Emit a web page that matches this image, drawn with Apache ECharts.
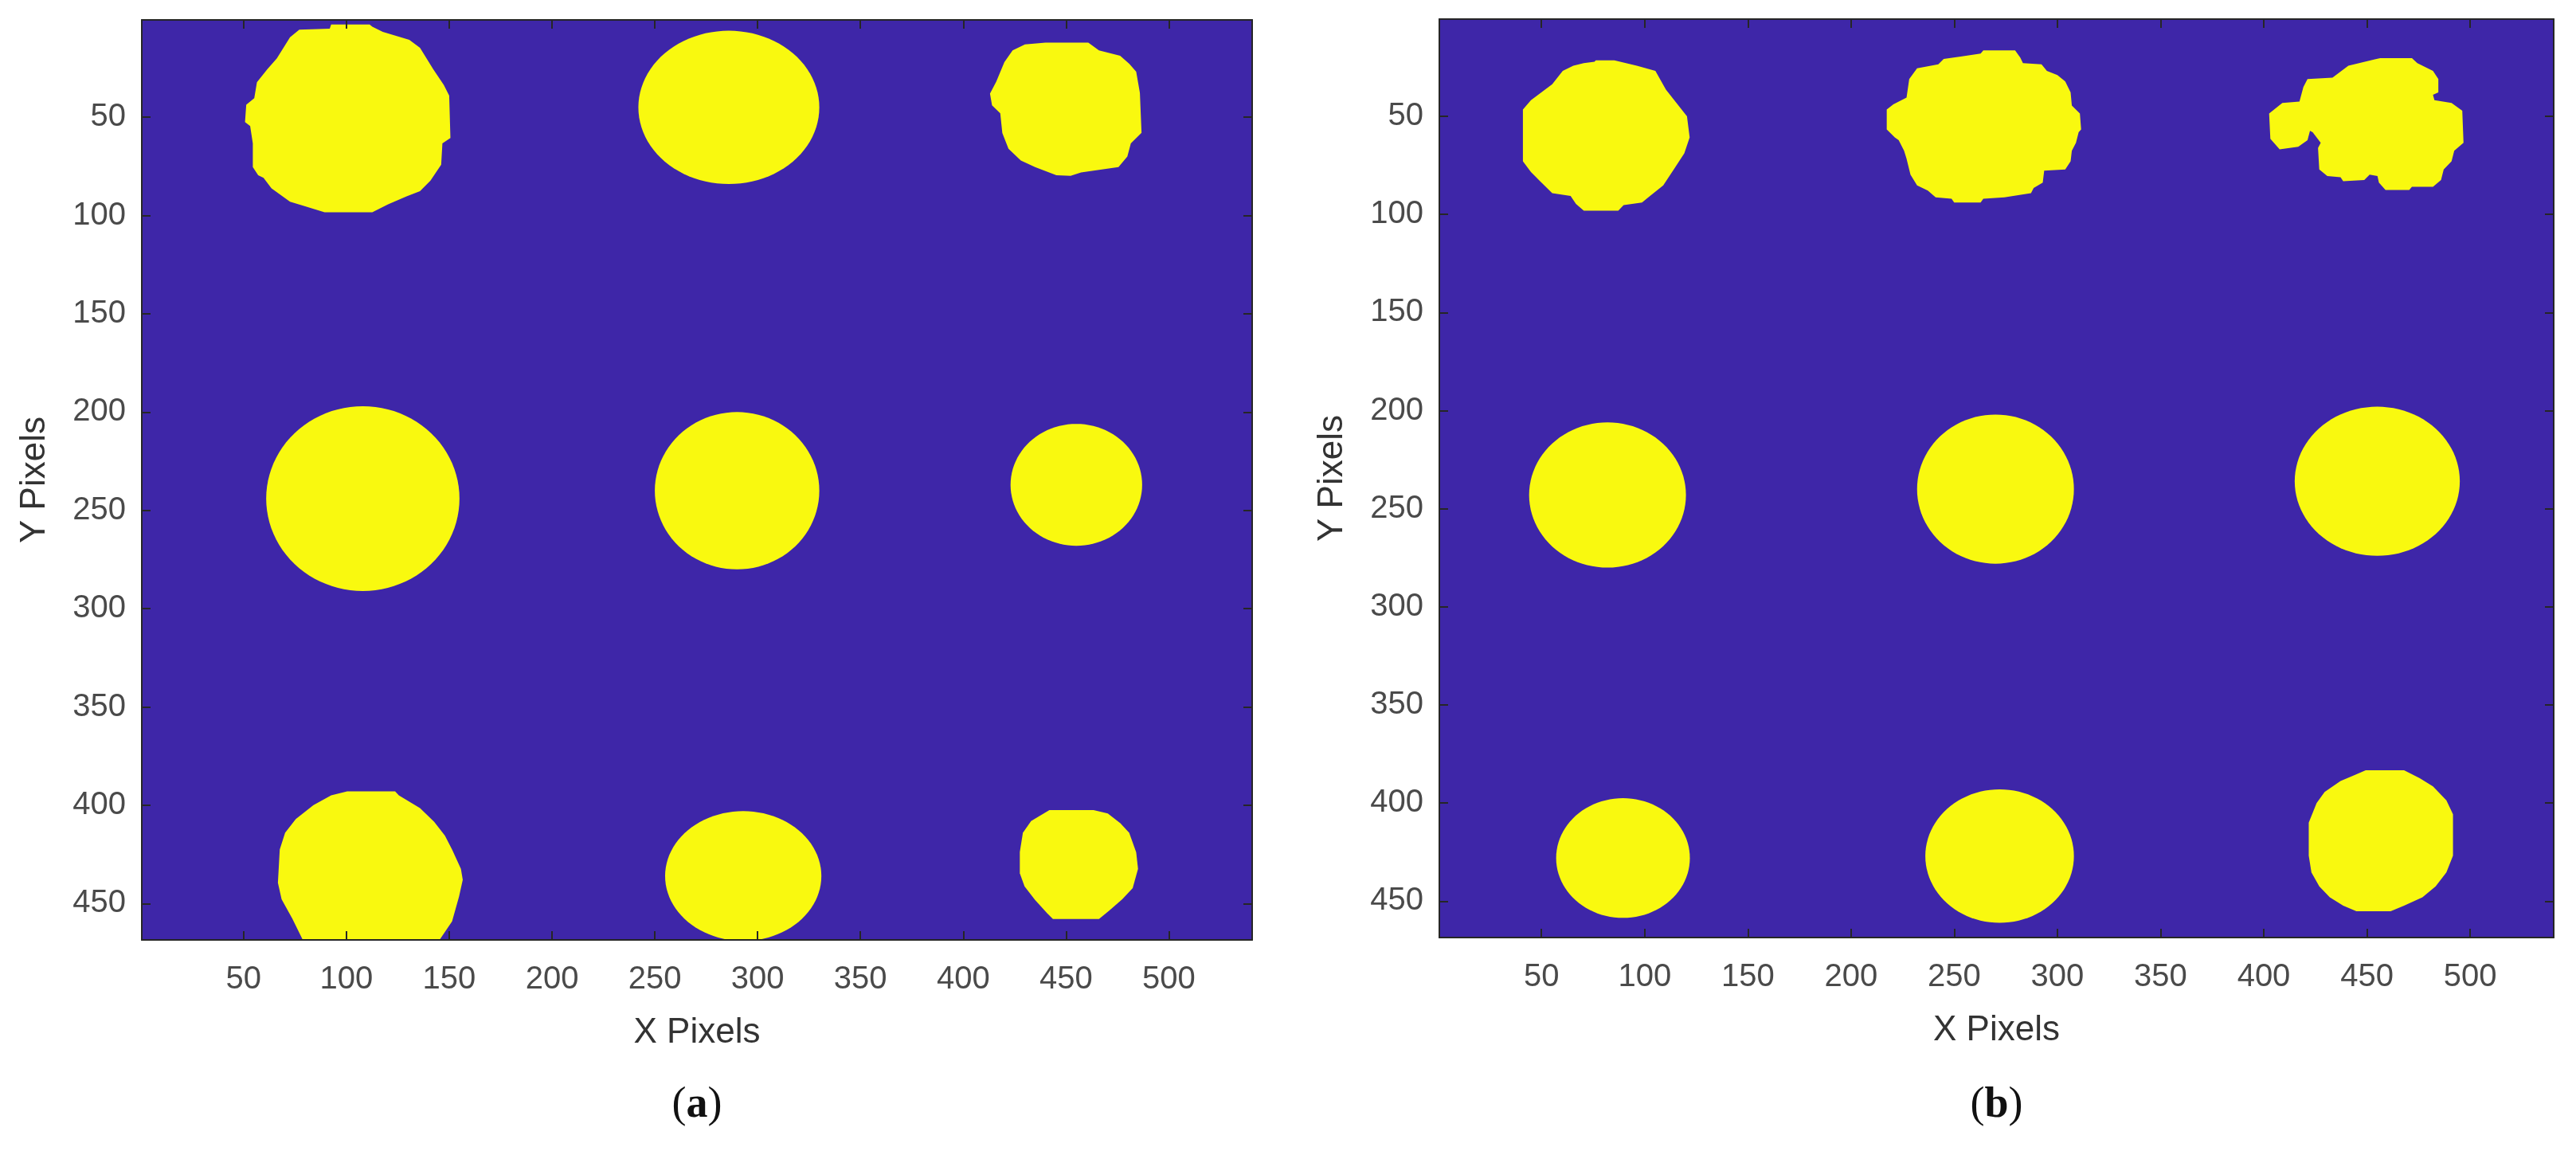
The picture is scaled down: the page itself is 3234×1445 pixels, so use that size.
<!DOCTYPE html>
<html><head><meta charset="utf-8">
<script src="https://cdn.jsdelivr.net/npm/echarts@6/dist/echarts.min.js"></script>
<style>html,body{margin:0;padding:0;background:#fff}#c{width:3234px;height:1445px}</style>
</head><body><div id="c"></div>
<script>
// ---- axis data ----
const xTicks = [50, 100, 150, 200, 250, 300, 350, 400, 450, 500];
const yTicks = [50, 100, 150, 200, 250, 300, 350, 400, 450];
const xRange = [0.5, 540.5];
const yRange = [0.5, 468.5];
const panelLabels = ['a', 'b'];

// ---- blob outlines (image pixel coordinates) ----
const blobA1 = [[92.6,2.8],[111.3,2.8],[112.6,3.9],[117.7,6.6],[130.6,10.6],[135.8,14.7],[142.2,25.5],[147.4,33.6],[150,39],[150.6,60.6],[146.7,63.3],[146.1,74.1],[140.9,82.2],[135.8,87.6],[129.3,90.3],[120.3,94.3],[112.6,98.4],[89.4,98.4],[79,95],[72.6,93],[63.6,86.2],[59.7,80.8],[57.1,79.5],[54.5,75.4],[54.5,63.3],[53.2,54.5],[50.7,52.5],[51.3,43.7],[55.2,40.3],[56.5,32.2],[61.6,25.5],[66.2,20.1],[72.6,9.3],[77.1,5.5],[91.9,5]];
const blobA3 = [[440,12],[460.8,12],[466,16],[476.3,18.7],[480.7,22.8],[484.1,26.8],[485.9,37.6],[486.7,57.9],[481.5,63.3],[479.8,70],[475.5,75.4],[457.3,78.1],[452.2,79.8],[445.3,79.5],[434.9,75.4],[428,72],[422,66],[419,58],[418,48],[414,44],[413,38],[416,32],[420,22],[424,16],[430,13]];
const blobA7 = [[100.4,392.9],[123.7,392.9],[125.5,395],[135.8,401.4],[142.7,408.4],[147.9,415.4],[151.4,422.5],[155.7,432.3],[156.6,437.9],[154.8,446.4],[151.4,459.1],[145.3,468.5],[78.8,468.5],[73.7,457.7],[68.5,447.8],[66.7,439.4],[67.6,422.5],[70.2,414],[75.4,407],[84,399.9],[92.6,395]];
const blobA9 = [[441.9,402.5],[463.4,402.5],[470.3,404.2],[476.4,409.1],[480.7,414],[484.1,423.9],[485,432.3],[482.4,442.2],[477.3,447.8],[471.2,453.4],[466,457.9],[443.6,457.9],[440.7,454.8],[434.9,448.1],[429.8,441.3],[427.5,434.6],[427.5,423.8],[429,414],[433,408]];
const blobB1 = [[76.3,21.5],[85.3,21.5],[96.2,24.2],[105.2,26.9],[110.3,36.4],[120.5,50],[121.8,60.8],[119.2,68.9],[114.1,77.1],[109,85.2],[102.6,90.6],[98.7,94],[89.8,95.3],[87.2,98.1],[70.5,98.1],[66.7,94.7],[64.1,90.6],[55.2,89.2],[50,83.8],[44.9,78.4],[41,73],[41,46.6],[44.9,41.8],[55.2,33.7],[60.3,26.9],[65.4,24.2],[70.5,22.9],[75.7,22.2]];
const blobB2 = [[264.1,16.4],[279.5,16.4],[282,20.1],[283.3,22.9],[292.3,23.5],[294.9,26.9],[300,29],[303.8,32.3],[306.4,37.8],[307,44.5],[310.9,48.6],[311.5,56.7],[310.3,58.1],[309,63.5],[307,67.6],[306.4,73],[303.8,77.1],[293.6,77.7],[292.9,83.8],[288.5,86.6],[287.2,89.2],[274.3,91.3],[264.1,92],[262.8,94],[250,94],[248.7,92],[241,91.3],[237.2,87.9],[232,85.2],[228.8,79.8],[226.9,71.6],[225.7,67.6],[223.1,62.2],[221.2,60.8],[217.3,56.7],[217.3,46.6],[220.5,43.9],[226.9,40.5],[228.2,31],[232,25.6],[242.3,23.5],[244.9,20.8],[253.8,19.5],[262.8,18.1]];
const blobB3 = [[456.4,20.4],[471.8,20.4],[474.4,22.9],[482,26.9],[484.6,31],[484.6,37.8],[482,39.1],[482.7,41.8],[491,43.2],[496.2,47.2],[496.8,63.5],[492.3,67.6],[491,73],[487.2,77.1],[485.9,82.5],[482,85.9],[471.8,85.9],[470.5,87.6],[459,87.6],[455.8,83.8],[455.1,80.5],[451.3,79.8],[448.7,82.5],[438.5,83.1],[437.2,81.1],[430.8,80.5],[426.9,77.1],[426.3,66.2],[427.6,63.5],[423.7,58.1],[422.4,57.4],[421.2,62.2],[416.7,65.5],[407.7,66.9],[403.2,61.5],[402.6,48.6],[409,43.2],[417.3,42.5],[419.2,35.1],[421.2,31],[433.3,30.3],[441,24.2],[447.4,22.6],[453.8,21]];
const blobB9 = [[449.4,383.3],[468,383.3],[475.6,387.3],[482,391.5],[488.5,398.6],[491.7,405.7],[491.7,426.8],[488.5,435.3],[483.3,442.4],[476.9,448],[468,452.3],[461.5,455.1],[444.9,455.1],[438.5,452.3],[432,448],[426.9,442.4],[423.1,435.3],[421.8,426.8],[421.8,409.9],[425.6,400],[429.5,394.3],[437.2,388.7],[443.6,385.9]];

// ---- roughly round blobs: [centre x, centre y, radius x, radius y] ----
const roundA = [[286, 45, 44, 39], [108, 244, 47, 47], [290, 240, 40, 40], [455, 237, 32, 31], [293, 436, 38, 33]];
const roundB = [[82, 243, 38, 37], [270, 240, 38, 38], [455, 236, 40, 38], [89.5, 428, 32.4, 30.5], [272, 427, 36, 34]];

const shapesA = [blobA1, blobA3, blobA7, blobA9].concat(roundA);
const shapesB = [blobB1, blobB2, blobB3, blobB9].concat(roundB);

const BLUE = '#3E26A8', YELLOW = '#F9F90F', AX = '#262626';

function anchor(s) { return typeof s[0] === 'number' ? [s[0], s[1]] : s[0]; }
function renderer(shapes) {
  return function (params, api) {
    const s = shapes[params.dataIndex];
    let pts;
    if (typeof s[0] === 'number') {
      pts = [];
      for (let k = 0; k < 96; k++) {
        const t = k / 96 * Math.PI * 2;
        pts.push(api.coord([s[0] + s[2] * Math.cos(t), s[1] + s[3] * Math.sin(t)]));
      }
    } else {
      pts = s.map(p => api.coord(p));
    }
    return { type: 'polygon', shape: { points: pts }, style: { fill: YELLOW, stroke: null } };
  };
}

const grids = [
  { left: 178, top: 25, width: 1394, height: 1155 },
  { left: 1807, top: 24, width: 1399, height: 1153 }
];
const font = 'Liberation Sans, Arial, Helvetica, sans-serif';
const xAxes = [], yAxes = [], series = [];
grids.forEach((g, i) => {
  Object.assign(g, { show: true, backgroundColor: BLUE, borderWidth: 0 });
  ['bottom', 'top'].forEach(pos => {
    xAxes.push({
      type: 'value', gridIndex: i, position: pos, min: xRange[0], max: xRange[1], z: 10,
      axisLine: { show: true, onZero: false, lineStyle: { color: AX, width: 2 } },
      axisTick: { show: true, inside: true, length: 11, customValues: xTicks, lineStyle: { color: AX, width: 2 } },
      axisLabel: { show: pos === 'bottom', customValues: xTicks, fontSize: 40, color: '#4a4a4a', margin: 30, fontFamily: font },
      splitLine: { show: false },
      name: pos === 'bottom' ? 'X Pixels' : '', nameLocation: 'middle', nameGap: 95,
      nameTextStyle: { fontSize: 44, color: '#333', fontFamily: font }
    });
  });
  ['left', 'right'].forEach(pos => {
    yAxes.push({
      type: 'value', gridIndex: i, position: pos, inverse: true, min: yRange[0], max: yRange[1], z: 10,
      axisLine: { show: true, onZero: false, lineStyle: { color: AX, width: 2 } },
      axisTick: { show: true, inside: true, length: 11, customValues: yTicks, lineStyle: { color: AX, width: 2 } },
      axisLabel: { show: pos === 'left', customValues: yTicks, fontSize: 40, color: '#4a4a4a', margin: 20, fontFamily: font },
      splitLine: { show: false },
      name: pos === 'left' ? 'Y Pixels' : '', nameLocation: 'middle', nameGap: 112, nameRotate: 90,
      nameTextStyle: { fontSize: 44, color: '#333', fontFamily: font }
    });
  });
  const shapes = i === 0 ? shapesA : shapesB;
  series.push({
    type: 'custom', xAxisIndex: i * 2, yAxisIndex: i * 2, clip: true, z: 2, silent: true,
    renderItem: renderer(shapes), data: shapes.map(anchor)
  });
});

const chart = echarts.init(document.getElementById('c'), null, { renderer: 'canvas' });
chart.setOption({
  animation: false,
  backgroundColor: '#fff',
  grid: grids, xAxis: xAxes, yAxis: yAxes, series: series,
  graphic: panelLabels.map((l, i) => ({
    type: 'text', x: grids[i].left + grids[i].width / 2, y: 1388,
    style: {
      text: '{p|(}{b|' + l + '}{p|)}', align: 'center', verticalAlign: 'middle',
      rich: {
        p: { fontSize: 54, fontFamily: 'Liberation Serif, Times New Roman, serif', fill: '#111' },
        b: { fontSize: 54, fontWeight: 'bold', fontFamily: 'Liberation Serif, Times New Roman, serif', fill: '#111' }
      }
    }
  }))
});
</script></body></html>
